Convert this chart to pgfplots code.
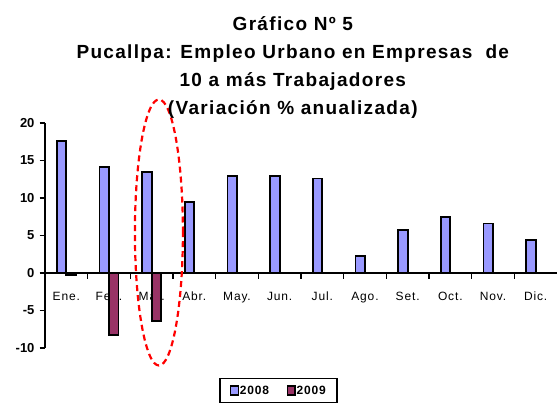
\documentclass[border=0pt]{standalone}
\usepackage{pgfplots}
\pgfplotsset{compat=1.18}
\usepackage{fontspec}
\setmainfont{Liberation Sans}
\newfontfamily\spaced[LetterSpace=7]{Liberation Sans}
\definecolor{b08}{HTML}{9999FF}
\definecolor{p09}{HTML}{993366}
\begin{document}
\begin{tikzpicture}
\path[use as bounding box] (-45pt,-57pt) rectangle (513pt,348pt);
\begin{axis}[
 at={(0,0)}, anchor=south west,
 scale only axis, width=512pt, height=225pt,
 xmin=-0.5, xmax=11.5, ymin=-10, ymax=20,
 axis x line=middle, axis y line=left,
 axis line style={-, line width=1.6pt, black},
 ybar=0pt, bar width=9.5pt,
 xtick={0,1,2,3,4,5,6,7,8,9,10,11},
 xticklabels={Ene., Feb., Mar., Abr., May., Jun., Jul., Ago., Set., Oct., Nov., Dic.},
 minor xtick={0.5,1.5,2.5,3.5,4.5,5.5,6.5,7.5,8.5,9.5,10.5},
 ytick={-10,-5,0,5,10,15,20},
 minor ytick={-10,-5,0,5,10,15,20},
 tick align=outside,
 major tick length=0pt,
 minor tick length=5.5pt,
 tick style={line width=1.5pt, black},
 xticklabel style={font=\spaced\fontsize{12}{14}\selectfont, text height=8.6pt, text depth=2.6pt, anchor=north, yshift=-15pt},
 yticklabel style={font=\bfseries\fontsize{13}{15}\selectfont, xshift=-7pt, /pgf/number format/assume math mode=true},
 clip=false,
 title={Gráfico Nº 5\\Pucallpa: Empleo Urbano en Empresas \ de\\10 a más Trabajadores\\(Variación \% anualizada)},
 title style={at={(0.484,1)}, anchor=south, inner sep=0pt, yshift=-2pt, align=center,
   font=\spaced\bfseries\fontsize{19}{28}\selectfont},
 legend style={at={(0.456,-0.133)}, anchor=north, legend columns=2, draw=black, line width=1.4pt,
   font=\spaced\bfseries\fontsize{12}{14}\selectfont, inner xsep=10pt, inner ysep=6pt,
   nodes={inner sep=1pt},
   /tikz/every odd column/.append style={column sep=0pt},
   /tikz/every even column/.append style={column sep=17pt}},
 legend image code/.code={\draw[#1, line width=1.2pt, draw=black] (0pt,-4.5pt) rectangle (7.5pt,4.5pt);},
]
\addplot[fill=b08, draw=black, line width=1.8pt] coordinates {
 (0,17.6) (1,14.1) (2,13.5) (3,9.5) (4,12.9) (5,12.9) (6,12.6) (7,2.3) (8,5.7) (9,7.5) (10,6.6) (11,4.4)};
\addplot[fill=p09, draw=black, line width=1.8pt] coordinates {
 (0,-0.3) (1,-8.3) (2,-6.4)};
\legend{2008,2009}
\draw[red, line width=2.2pt, dash pattern=on 6pt off 4pt] (axis cs:2.17,5.4) ellipse [x radius=24pt, y radius=133pt];
\end{axis}
\end{tikzpicture}
\end{document}
